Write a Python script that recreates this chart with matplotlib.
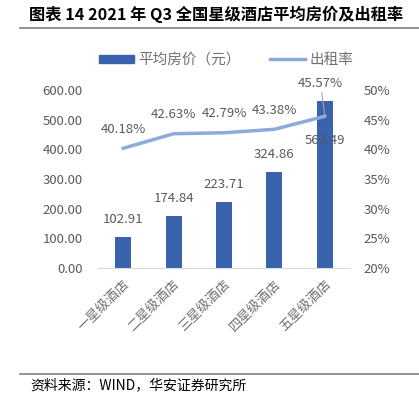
import matplotlib
matplotlib.use("Agg")
import matplotlib.pyplot as plt
from matplotlib.lines import Line2D
from matplotlib.patches import Patch

plt.rcParams['font.family'] = ['Noto Sans CJK SC', 'DejaVu Sans']

categories = ['一星级酒店', '二星级酒店', '三星级酒店', '四星级酒店', '五星级酒店']
avg_price = [102.91, 174.84, 223.71, 324.86, 562.49]
occupancy = [40.18, 42.63, 42.79, 43.38, 45.57]
left_ticks = [0, 100, 200, 300, 400, 500, 600]
right_ticks = [20, 25, 30, 35, 40, 45, 50]

W, H = 419, 396
fig = plt.figure(figsize=(W/100, H/100), dpi=100)

bar_color = '#3A63AD'
line_color = '#8EA9DB'
tick_color = '#595959'

ax = fig.add_axes([98/W, 1-268/H, (350-98)/W, (268-90)/H])
x = list(range(len(categories)))
ax.bar(x, avg_price, width=0.32, color=bar_color, zorder=2)
ax.set_xlim(-0.5, 4.5)
ax.set_ylim(0, 600)
ax.set_yticks(left_ticks)
ax.set_yticklabels([f'{v:.2f}' for v in left_ticks])
ax.set_xticks(x)
ax.set_xticklabels(categories, rotation=45, ha='right', rotation_mode='anchor')
for s in ['top', 'right', 'left']:
    ax.spines[s].set_visible(False)
ax.spines['bottom'].set_color('#D9D9D9')
ax.tick_params(axis='y', length=0, colors=tick_color, labelsize=9.5, pad=11)
ax.tick_params(axis='x', length=0, colors='#707070', labelsize=9.5, pad=7)

ax2 = ax.twinx()
ax2.plot(x, occupancy, color=line_color, lw=2.5, zorder=3)
ax2.set_ylim(20, 50)
ax2.set_yticks(right_ticks)
ax2.set_yticklabels([f'{v}%' for v in right_ticks])
for s in ['top', 'right', 'left', 'bottom']:
    ax2.spines[s].set_visible(False)
ax2.tick_params(axis='y', length=0, colors=tick_color, labelsize=9.5, pad=10)

# bar labels
for i, v in enumerate(avg_price):
    if i < 4:
        ax.annotate(f'{v:.2f}', (i, v), xytext=(0, 8), textcoords='offset points',
                    ha='center', va='bottom', fontsize=9.5, color=tick_color)
    else:
        ax.annotate(f'{v:.2f}', (i, v), xytext=(0, -33), textcoords='offset points',
                    ha='center', va='bottom', fontsize=9.5, color=tick_color)

# line labels
for i, v in enumerate(occupancy):
    if i < 4:
        ax2.annotate(f'{v:.2f}%', (i, v), xytext=(0, 9), textcoords='offset points',
                     ha='center', va='bottom', fontsize=9.5, color=tick_color)
    else:
        ax2.annotate(f'{v:.2f}%', (i, v), xytext=(-3, 19), textcoords='offset points',
                     ha='center', va='bottom', fontsize=9.5, color=tick_color,
                     arrowprops=dict(arrowstyle='-', color='#A6A6A6', lw=0.8,
                                     shrinkA=0, shrinkB=0))

# legend
handles = [Patch(color=bar_color), Line2D([0], [0], color=line_color, lw=2.5)]
fig.legend(handles, ['平均房价（元）', '出租率'], loc='center', bbox_to_anchor=(0.54, 1-60/H),
           ncol=2, frameon=False, fontsize=10.5, handlelength=2.4, handleheight=0.45,
           columnspacing=2.0, handletextpad=0.3, labelcolor='#707070')

# title
fig.text(0.517, 1-14/H, '图表 14 2021 年 Q3 全国星级酒店平均房价及出租率', ha='center', va='center',
         fontsize=11.7, fontweight='bold', color='black')
fig.add_artist(Line2D([20/W, 1], [1-28/H, 1-28/H], color='#7F7F7F', lw=1.2))
fig.add_artist(Line2D([20/W, 1], [1-374/H, 1-374/H], color='#7F7F7F', lw=1.2))
fig.text(30/W, 1-385/H, '资料来源：WIND，华安证券研究所', ha='left', va='center',
         fontsize=10, color='black')

fig.savefig('out.png', dpi=100)
